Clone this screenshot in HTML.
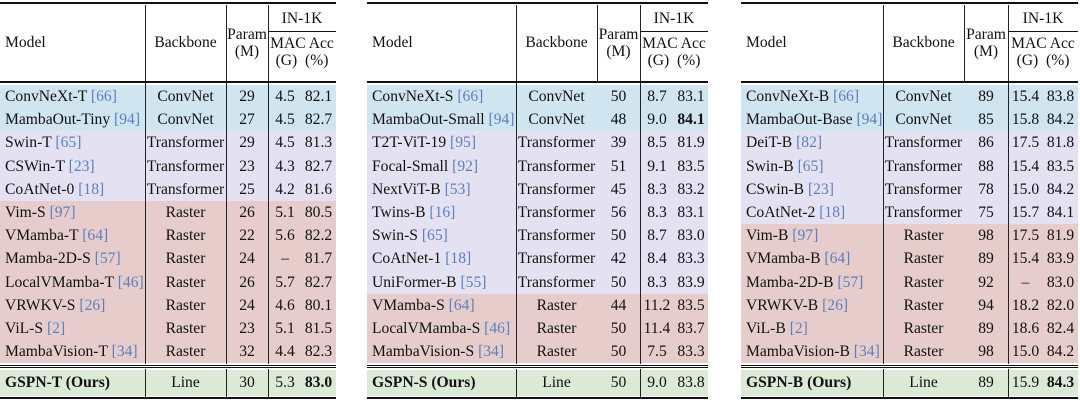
<!DOCTYPE html>
<html><head><meta charset="utf-8"><style>
body{margin:0;width:1080px;height:406px;background:#fff;font-family:"Liberation Serif",serif;font-size:15.6px;color:#111;overflow:hidden;position:relative}
.t{position:absolute;top:0;height:406px}
.r{position:absolute;left:0;right:0;height:23.2px;line-height:23.2px}
.r span{position:absolute;top:0;text-align:center;white-space:nowrap}
.r span.m{text-align:left;padding-left:5px}
.b{background:#d0e5ef}.p{background:#e4e2f2}.k{background:#e7cccc}.g{background:#dce9d6}
.h{position:absolute;background:#111}
.v{position:absolute;width:1px;background:#222}
.hd{position:absolute;text-align:center;line-height:17px;white-space:nowrap}
i{font-style:normal;color:#5b7fc0}
b{font-weight:bold}
</style></head><body>

<!-- TABLE 1 -->
<div class="t" style="left:0;width:336px">
<div class="h" style="left:0;width:336px;top:2px;height:2px"></div>
<div class="h" style="left:268px;width:68px;top:31px;height:1px"></div>
<div class="h" style="left:0;width:336px;top:81px;height:2px"></div>
<div class="hd" style="left:5px;top:34px">Model</div>
<div class="hd" style="left:145px;width:81px;top:34px">Backbone</div>
<div class="hd" style="left:226px;width:42px;top:26px">Param<br>(M)</div>
<div class="hd" style="left:268px;width:68px;top:10px">IN-1K</div>
<div class="hd" style="left:268px;width:68px;top:35px">MAC Acc<br>(G)&nbsp;&nbsp;(%)</div>
<div class="r b" style="top:85px"><span class="m">ConvNeXt-T <i>[66]</i></span><span style="left:145px;width:81px">ConvNet</span><span style="left:226px;width:42px">29</span><span style="left:268px;width:34px">4.5</span><span style="left:301px;width:35px">82.1</span></div>
<div class="r b" style="top:108.2px"><span class="m">MambaOut-Tiny <i>[94]</i></span><span style="left:145px;width:81px">ConvNet</span><span style="left:226px;width:42px">27</span><span style="left:268px;width:34px">4.5</span><span style="left:301px;width:35px">82.7</span></div>
<div class="r p" style="top:131.4px"><span class="m">Swin-T <i>[65]</i></span><span style="left:145px;width:81px">Transformer</span><span style="left:226px;width:42px">29</span><span style="left:268px;width:34px">4.5</span><span style="left:301px;width:35px">81.3</span></div>
<div class="r p" style="top:154.6px"><span class="m">CSWin-T <i>[23]</i></span><span style="left:145px;width:81px">Transformer</span><span style="left:226px;width:42px">23</span><span style="left:268px;width:34px">4.3</span><span style="left:301px;width:35px">82.7</span></div>
<div class="r p" style="top:177.8px"><span class="m">CoAtNet-0 <i>[18]</i></span><span style="left:145px;width:81px">Transformer</span><span style="left:226px;width:42px">25</span><span style="left:268px;width:34px">4.2</span><span style="left:301px;width:35px">81.6</span></div>
<div class="r k" style="top:201px"><span class="m">Vim-S <i>[97]</i></span><span style="left:145px;width:81px">Raster</span><span style="left:226px;width:42px">26</span><span style="left:268px;width:34px">5.1</span><span style="left:301px;width:35px">80.5</span></div>
<div class="r k" style="top:224.2px"><span class="m">VMamba-T <i>[64]</i></span><span style="left:145px;width:81px">Raster</span><span style="left:226px;width:42px">22</span><span style="left:268px;width:34px">5.6</span><span style="left:301px;width:35px">82.2</span></div>
<div class="r k" style="top:247.4px"><span class="m">Mamba-2D-S <i>[57]</i></span><span style="left:145px;width:81px">Raster</span><span style="left:226px;width:42px">24</span><span style="left:268px;width:34px">–</span><span style="left:301px;width:35px">81.7</span></div>
<div class="r k" style="top:270.6px"><span class="m">LocalVMamba-T <i>[46]</i></span><span style="left:145px;width:81px">Raster</span><span style="left:226px;width:42px">26</span><span style="left:268px;width:34px">5.7</span><span style="left:301px;width:35px">82.7</span></div>
<div class="r k" style="top:293.8px"><span class="m">VRWKV-S <i>[26]</i></span><span style="left:145px;width:81px">Raster</span><span style="left:226px;width:42px">24</span><span style="left:268px;width:34px">4.6</span><span style="left:301px;width:35px">80.1</span></div>
<div class="r k" style="top:317px"><span class="m">ViL-S <i>[2]</i></span><span style="left:145px;width:81px">Raster</span><span style="left:226px;width:42px">23</span><span style="left:268px;width:34px">5.1</span><span style="left:301px;width:35px">81.5</span></div>
<div class="r k" style="top:340.2px"><span class="m">MambaVision-T <i>[34]</i></span><span style="left:145px;width:81px">Raster</span><span style="left:226px;width:42px">32</span><span style="left:268px;width:34px">4.4</span><span style="left:301px;width:35px">82.3</span></div>
<div class="h" style="left:0;width:336px;top:365px;height:1px"></div>
<div class="h" style="left:0;width:336px;top:367px;height:1px"></div>
<div class="r g" style="top:370px;height:26px;line-height:26px"><span class="m"><b>GSPN-T (Ours)</b></span><span style="left:145px;width:81px">Line</span><span style="left:226px;width:42px">30</span><span style="left:268px;width:34px">5.3</span><span style="left:301px;width:35px"><b>83.0</b></span></div>
<div class="h" style="left:0;width:336px;top:397px;height:2px"></div>
<div class="v" style="left:145px;top:5px;height:76px"></div><div class="v" style="left:226px;top:5px;height:76px"></div><div class="v" style="left:268px;top:5px;height:76px"></div>
<div class="v" style="left:145px;top:83px;height:281px"></div><div class="v" style="left:226px;top:83px;height:281px"></div><div class="v" style="left:268px;top:83px;height:281px"></div>
<div class="v" style="left:145px;top:369px;height:28px"></div><div class="v" style="left:226px;top:369px;height:28px"></div><div class="v" style="left:268px;top:369px;height:28px"></div>
</div>

<!-- TABLE 2 -->
<div class="t" style="left:367px;width:341px">
<div class="h" style="left:0;width:341px;top:2px;height:2px"></div>
<div class="h" style="left:273px;width:68px;top:31px;height:1px"></div>
<div class="h" style="left:0;width:341px;top:81px;height:2px"></div>
<div class="hd" style="left:5px;top:34px">Model</div>
<div class="hd" style="left:149px;width:81px;top:34px">Backbone</div>
<div class="hd" style="left:230px;width:43px;top:26px">Param<br>(M)</div>
<div class="hd" style="left:273px;width:68px;top:10px">IN-1K</div>
<div class="hd" style="left:273px;width:68px;top:35px">MAC Acc<br>(G)&nbsp;&nbsp;(%)</div>
<div class="r b" style="top:85px"><span class="m">ConvNeXt-S <i>[66]</i></span><span style="left:149px;width:81px">ConvNet</span><span style="left:230px;width:43px">50</span><span style="left:273px;width:34px">8.7</span><span style="left:307px;width:34px">83.1</span></div>
<div class="r b" style="top:108.2px"><span class="m">MambaOut-Small <i>[94]</i></span><span style="left:149px;width:81px">ConvNet</span><span style="left:230px;width:43px">48</span><span style="left:273px;width:34px">9.0</span><span style="left:307px;width:34px"><b>84.1</b></span></div>
<div class="r p" style="top:131.4px"><span class="m">T2T-ViT-19 <i>[95]</i></span><span style="left:149px;width:81px">Transformer</span><span style="left:230px;width:43px">39</span><span style="left:273px;width:34px">8.5</span><span style="left:307px;width:34px">81.9</span></div>
<div class="r p" style="top:154.6px"><span class="m">Focal-Small <i>[92]</i></span><span style="left:149px;width:81px">Transformer</span><span style="left:230px;width:43px">51</span><span style="left:273px;width:34px">9.1</span><span style="left:307px;width:34px">83.5</span></div>
<div class="r p" style="top:177.8px"><span class="m">NextViT-B <i>[53]</i></span><span style="left:149px;width:81px">Transformer</span><span style="left:230px;width:43px">45</span><span style="left:273px;width:34px">8.3</span><span style="left:307px;width:34px">83.2</span></div>
<div class="r p" style="top:201px"><span class="m">Twins-B <i>[16]</i></span><span style="left:149px;width:81px">Transformer</span><span style="left:230px;width:43px">56</span><span style="left:273px;width:34px">8.3</span><span style="left:307px;width:34px">83.1</span></div>
<div class="r p" style="top:224.2px"><span class="m">Swin-S <i>[65]</i></span><span style="left:149px;width:81px">Transformer</span><span style="left:230px;width:43px">50</span><span style="left:273px;width:34px">8.7</span><span style="left:307px;width:34px">83.0</span></div>
<div class="r p" style="top:247.4px"><span class="m">CoAtNet-1 <i>[18]</i></span><span style="left:149px;width:81px">Transformer</span><span style="left:230px;width:43px">42</span><span style="left:273px;width:34px">8.4</span><span style="left:307px;width:34px">83.3</span></div>
<div class="r p" style="top:270.6px"><span class="m">UniFormer-B <i>[55]</i></span><span style="left:149px;width:81px">Transformer</span><span style="left:230px;width:43px">50</span><span style="left:273px;width:34px">8.3</span><span style="left:307px;width:34px">83.9</span></div>
<div class="r k" style="top:293.8px"><span class="m">VMamba-S <i>[64]</i></span><span style="left:149px;width:81px">Raster</span><span style="left:230px;width:43px">44</span><span style="left:273px;width:34px">11.2</span><span style="left:307px;width:34px">83.5</span></div>
<div class="r k" style="top:317px"><span class="m">LocalVMamba-S <i>[46]</i></span><span style="left:149px;width:81px">Raster</span><span style="left:230px;width:43px">50</span><span style="left:273px;width:34px">11.4</span><span style="left:307px;width:34px">83.7</span></div>
<div class="r k" style="top:340.2px"><span class="m">MambaVision-S <i>[34]</i></span><span style="left:149px;width:81px">Raster</span><span style="left:230px;width:43px">50</span><span style="left:273px;width:34px">7.5</span><span style="left:307px;width:34px">83.3</span></div>
<div class="h" style="left:0;width:341px;top:365px;height:1px"></div>
<div class="h" style="left:0;width:341px;top:367px;height:1px"></div>
<div class="r g" style="top:370px;height:26px;line-height:26px"><span class="m"><b>GSPN-S (Ours)</b></span><span style="left:149px;width:81px">Line</span><span style="left:230px;width:43px">50</span><span style="left:273px;width:34px">9.0</span><span style="left:307px;width:34px">83.8</span></div>
<div class="h" style="left:0;width:341px;top:397px;height:2px"></div>
<div class="v" style="left:149px;top:5px;height:76px"></div><div class="v" style="left:230px;top:5px;height:76px"></div><div class="v" style="left:273px;top:5px;height:76px"></div>
<div class="v" style="left:149px;top:83px;height:281px"></div><div class="v" style="left:273px;top:83px;height:281px"></div>
<div class="v" style="left:149px;top:369px;height:28px"></div><div class="v" style="left:273px;top:369px;height:28px"></div>
</div>

<!-- TABLE 3 -->
<div class="t" style="left:741px;width:337px">
<div class="h" style="left:0;width:337px;top:2px;height:2px"></div>
<div class="h" style="left:267px;width:70px;top:31px;height:1px"></div>
<div class="h" style="left:0;width:337px;top:81px;height:2px"></div>
<div class="hd" style="left:5px;top:34px">Model</div>
<div class="hd" style="left:142px;width:81px;top:34px">Backbone</div>
<div class="hd" style="left:223px;width:44px;top:26px">Param<br>(M)</div>
<div class="hd" style="left:267px;width:70px;top:10px">IN-1K</div>
<div class="hd" style="left:267px;width:70px;top:35px">MAC Acc<br>(G)&nbsp;&nbsp;(%)</div>
<div class="r b" style="top:85px"><span class="m">ConvNeXt-B <i>[66]</i></span><span style="left:142px;width:81px">ConvNet</span><span style="left:223px;width:44px">89</span><span style="left:267px;width:35px">15.4</span><span style="left:302px;width:35px">83.8</span></div>
<div class="r b" style="top:108.2px"><span class="m">MambaOut-Base <i>[94]</i></span><span style="left:142px;width:81px">ConvNet</span><span style="left:223px;width:44px">85</span><span style="left:267px;width:35px">15.8</span><span style="left:302px;width:35px">84.2</span></div>
<div class="r p" style="top:131.4px"><span class="m">DeiT-B <i>[82]</i></span><span style="left:142px;width:81px">Transformer</span><span style="left:223px;width:44px">86</span><span style="left:267px;width:35px">17.5</span><span style="left:302px;width:35px">81.8</span></div>
<div class="r p" style="top:154.6px"><span class="m">Swin-B <i>[65]</i></span><span style="left:142px;width:81px">Transformer</span><span style="left:223px;width:44px">88</span><span style="left:267px;width:35px">15.4</span><span style="left:302px;width:35px">83.5</span></div>
<div class="r p" style="top:177.8px"><span class="m">CSwin-B <i>[23]</i></span><span style="left:142px;width:81px">Transformer</span><span style="left:223px;width:44px">78</span><span style="left:267px;width:35px">15.0</span><span style="left:302px;width:35px">84.2</span></div>
<div class="r p" style="top:201px"><span class="m">CoAtNet-2 <i>[18]</i></span><span style="left:142px;width:81px">Transformer</span><span style="left:223px;width:44px">75</span><span style="left:267px;width:35px">15.7</span><span style="left:302px;width:35px">84.1</span></div>
<div class="r k" style="top:224.2px"><span class="m">Vim-B <i>[97]</i></span><span style="left:142px;width:81px">Raster</span><span style="left:223px;width:44px">98</span><span style="left:267px;width:35px">17.5</span><span style="left:302px;width:35px">81.9</span></div>
<div class="r k" style="top:247.4px"><span class="m">VMamba-B <i>[64]</i></span><span style="left:142px;width:81px">Raster</span><span style="left:223px;width:44px">89</span><span style="left:267px;width:35px">15.4</span><span style="left:302px;width:35px">83.9</span></div>
<div class="r k" style="top:270.6px"><span class="m">Mamba-2D-B <i>[57]</i></span><span style="left:142px;width:81px">Raster</span><span style="left:223px;width:44px">92</span><span style="left:267px;width:35px">–</span><span style="left:302px;width:35px">83.0</span></div>
<div class="r k" style="top:293.8px"><span class="m">VRWKV-B <i>[26]</i></span><span style="left:142px;width:81px">Raster</span><span style="left:223px;width:44px">94</span><span style="left:267px;width:35px">18.2</span><span style="left:302px;width:35px">82.0</span></div>
<div class="r k" style="top:317px"><span class="m">ViL-B <i>[2]</i></span><span style="left:142px;width:81px">Raster</span><span style="left:223px;width:44px">89</span><span style="left:267px;width:35px">18.6</span><span style="left:302px;width:35px">82.4</span></div>
<div class="r k" style="top:340.2px"><span class="m">MambaVision-B <i>[34]</i></span><span style="left:142px;width:81px">Raster</span><span style="left:223px;width:44px">98</span><span style="left:267px;width:35px">15.0</span><span style="left:302px;width:35px">84.2</span></div>
<div class="h" style="left:0;width:337px;top:365px;height:1px"></div>
<div class="h" style="left:0;width:337px;top:367px;height:1px"></div>
<div class="r g" style="top:370px;height:26px;line-height:26px"><span class="m"><b>GSPN-B (Ours)</b></span><span style="left:142px;width:81px">Line</span><span style="left:223px;width:44px">89</span><span style="left:267px;width:35px">15.9</span><span style="left:302px;width:35px"><b>84.3</b></span></div>
<div class="h" style="left:0;width:337px;top:397px;height:2px"></div>
<div class="v" style="left:142px;top:5px;height:76px"></div><div class="v" style="left:223px;top:5px;height:76px"></div><div class="v" style="left:267px;top:5px;height:76px"></div>
<div class="v" style="left:142px;top:83px;height:281px"></div><div class="v" style="left:267px;top:83px;height:281px"></div>
<div class="v" style="left:142px;top:369px;height:28px"></div><div class="v" style="left:267px;top:369px;height:28px"></div>
</div>

</body></html>
